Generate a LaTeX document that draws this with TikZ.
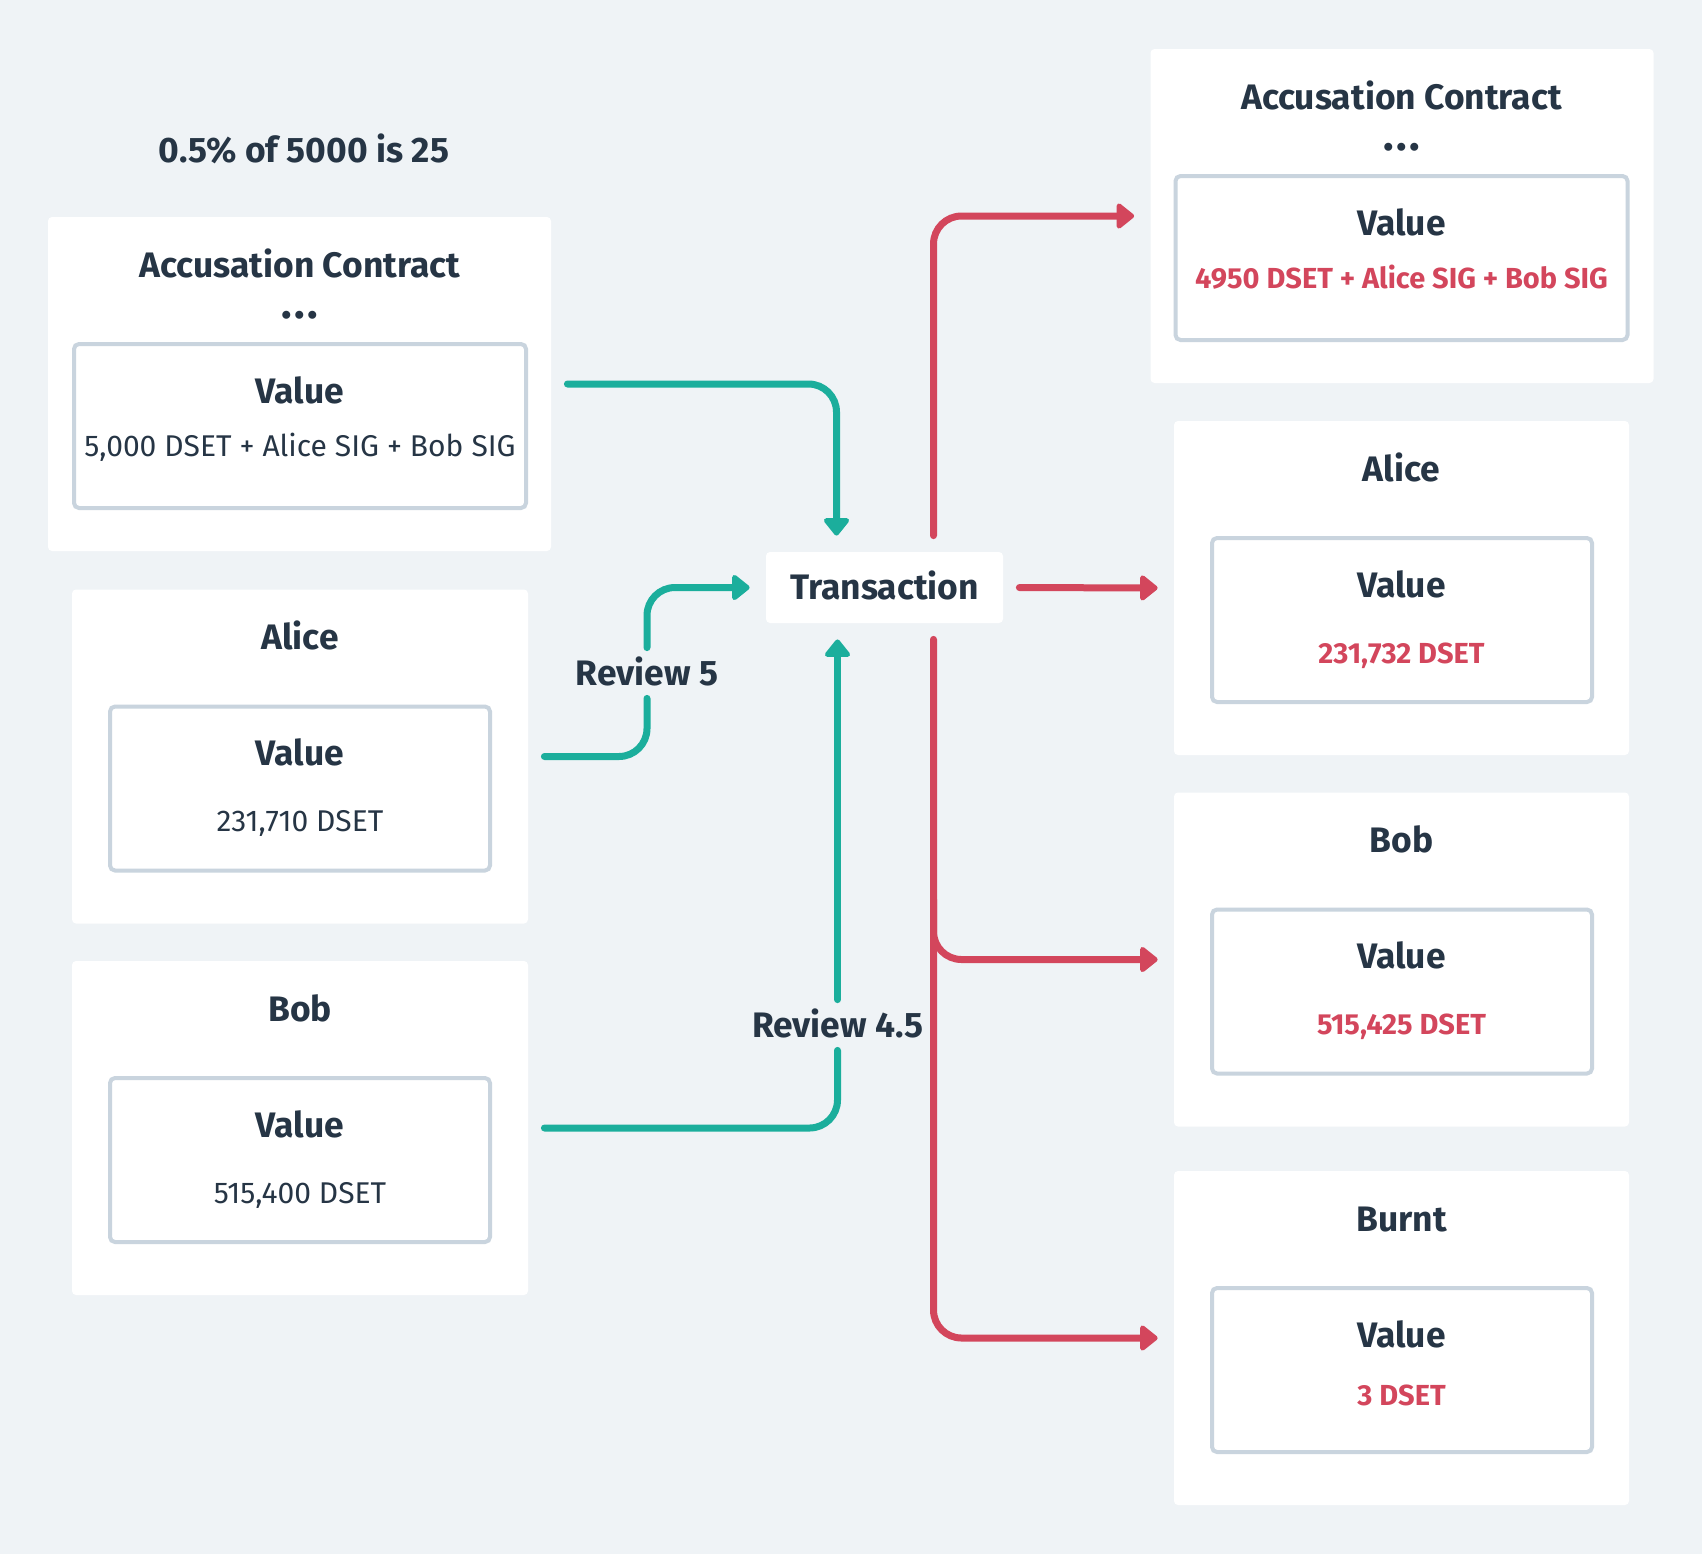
\documentclass[tikz,border=0pt]{standalone}
\usepackage{fontspec}
\setmainfont{Fira Sans}
\usetikzlibrary{arrows.meta}

\definecolor{paper}{HTML}{EFF3F6}
\definecolor{ink}{HTML}{263545}
\definecolor{flowin}{HTML}{1BAE9C}
\definecolor{flowout}{HTML}{D3465C}
\definecolor{rim}{HTML}{C9D4DE}

\tikzset{
	card/.style={fill=white, rounded corners=2pt, inner sep=0pt, minimum height=167pt},
	valbox/.style={draw=rim, line width=2pt, fill=white, rounded corners=2.5pt, inner sep=0pt, minimum height=82pt},
	head/.style={font=\bfseries\fontsize{17.7}{22}\selectfont, text=ink, anchor=base, inner sep=0pt},
	dots/.style={font=\bfseries\fontsize{22}{26}\selectfont, text=ink, anchor=base, inner sep=0pt},
	plain/.style={font=\fontsize{15}{18}\selectfont, text=ink, anchor=base, inner sep=0pt},
	hot/.style={font=\bfseries\fontsize{14.5}{18}\selectfont, text=flowout, anchor=base, inner sep=0pt},
	trans/.style={fill=white, rounded corners=2pt, minimum width=118.5pt, minimum height=35.5pt,
			font=\bfseries\fontsize{17.7}{22}\selectfont, text=ink, text height=12.2pt, text depth=0pt, inner sep=0pt},
	tag/.style={font=\bfseries\fontsize{17.7}{22}\selectfont, text=ink, text height=12.2pt, text depth=0pt,
			inner xsep=0pt, inner ysep=6.4pt},
	flow/.style={line width=3.5pt, line cap=round, rounded corners=14pt,
			-{Triangle[length=9.5pt, width=14.5pt, round]}, shorten <=8pt, shorten >=8pt},
}

\begin{document}
\begin{tikzpicture}[x=0.5pt, y=-0.5pt]

		\fill[paper] (0,0) rectangle (1702,1554);

		% Fee note
		\node[head] (note) at (304,162.5) {0.5\% of 5000 is 25};

		% Inputs - contract
		\node[card, minimum width=251.5pt] (acL) at (299.5,384) {};
		\node[valbox, minimum width=226pt] (acL-val) at (300,426) {};
		\node[head] (acL-head) at (300,277.5) {Accusation Contract};
		\node[dots] (acL-dots) at (300,318) {.\kern1.2pt.\kern1.2pt.};
		\node[head] (acL-value) at (300,403.5) {Value};
		\node[plain] (acL-amt) at (300,456.5) {5,000 DSET + Alice SIG + Bob SIG};

		% Inputs - wallets
		\foreach \id/\who/\y/\amt in {aliceL/Alice/756.5/{231,710 DSET}, bobL/Bob/1128/{515,400 DSET}} {
				\node[card, minimum width=228pt] (\id) at (300,\y) {};
				\node[valbox, minimum width=190pt] (\id-val) at (300,\y+32) {};
				\node[head] (\id-head) at (300,\y-107) {\who};
				\node[head] (\id-value) at (300,\y+9) {Value};
				\node[plain] (\id-amt) at (300,\y+75) {\amt};
			}

		% Transaction
		\node[trans] (trans) at (884.5,587.5) {Transaction};
		\node[tag] (rev5) at (647,673) {Review 5};
		\node[tag] (rev45) at (837.5,1025) {Review 4.5};

		% Outputs - contract
		\node[card, minimum width=251.5pt] (acR) at (1402,216) {};
		\node[valbox, minimum width=226pt] (acR-val) at (1401.5,258) {};
		\node[head] (acR-head) at (1401.5,109.5) {Accusation Contract};
		\node[dots] (acR-dots) at (1401.5,150) {.\kern1.2pt.\kern1.2pt.};
		\node[head] (acR-value) at (1401.5,235.5) {Value};
		\node[hot] (acR-amt) at (1401.5,288.5) {4950 DSET + Alice SIG + Bob SIG};

		% Outputs - wallets and burn
		\foreach \id/\who/\y/\amt/\dy in {aliceR/Alice/588/{231,732 DSET}/75, bobR/Bob/959.5/{515,425 DSET}/75, burnt/Burnt/1338/{3 DSET}/67} {
				\node[card, minimum width=227.5pt] (\id) at (1401.5,\y) {};
				\node[valbox, minimum width=190pt] (\id-val) at (1402,\y+32) {};
				\node[head] (\id-head) at (1401.5,\y-107) {\who};
				\node[head] (\id-value) at (1401.5,\y+9) {Value};
				\node[hot] (\id-amt) at (1401.5,\y+\dy) {\amt};
			}

		% Flows in
		\draw[flow, flowin] (acL.east) -| ([xshift=-24pt]trans.north);
		\draw[flow, flowin, -, shorten >=0pt] (aliceL.east) -| (rev5.south);
		\draw[flow, flowin, shorten <=0pt] (rev5.north) |- (trans.west);
		\draw[flow, flowin, -, shorten >=0pt] (bobL.east) -| (rev45.south);
		\draw[flow, flowin, shorten <=0pt] (rev45.north) -- (rev45.north |- trans.south);

		% Flows out
		\coordinate (fork) at ([xshift=24.5pt]trans.south |- bobR.west);
		\draw[flow, flowout] ([xshift=24.5pt]trans.north) |- (acR.west);
		\draw[flow, flowout] (trans.east) -- (aliceR.west);
		\draw[flow, flowout] ([xshift=24.5pt]trans.south) |- (burnt.west);
		\draw[flow, flowout, shorten <=0pt] ([yshift=30pt]fork) |- (bobR.west);
	\end{tikzpicture}
\end{document}
